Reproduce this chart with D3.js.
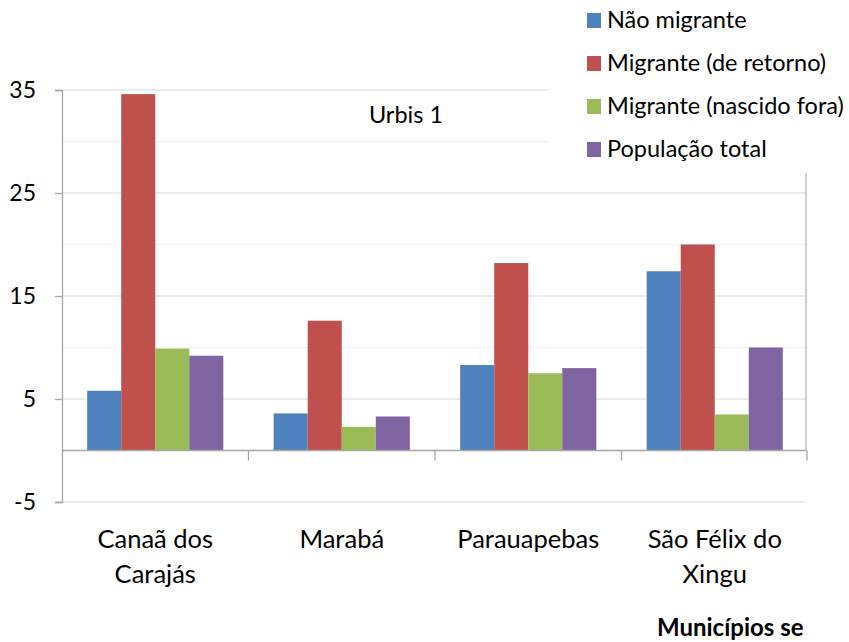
<!DOCTYPE html>
<html><head><meta charset="utf-8">
<script src="https://cdn.jsdelivr.net/npm/d3@7"></script>
<style>body{margin:0;background:#fff}svg{display:block}text{font-family:Lato,"Open Sans",sans-serif;fill:#000}</style>
</head><body><svg id="c" width="849" height="642"></svg>
<script>
const categories = ["Canaã dos Carajás", "Marabá", "Parauapebas", "São Félix do Xingu"];
const categoryLines = [["Canaã dos", "Carajás"], ["Marabá"], ["Parauapebas"], ["São Félix do", "Xingu"]];
const seriesNames = ["Não migrante", "Migrante (de retorno)", "Migrante (nascido fora)", "População total"];
const naoMigrante = [5.8, 3.6, 8.3, 17.4];
const migranteRetorno = [34.6, 12.6, 18.2, 20.0];
const migranteFora = [9.9, 2.3, 7.5, 3.5];
const populacaoTotal = [9.2, 3.3, 8.0, 10.0];
const yTicks = [-5, 5, 15, 25, 35];
const yMinor = [10, 20, 30];
const colors = ["#4F81BD", "#C0504D", "#9BBB59", "#8064A2"];
const series = [naoMigrante, migranteRetorno, migranteFora, populacaoTotal];

const svg = d3.select("#c");
const y = d3.scaleLinear().domain([-5, 35]).range([502, 90]);
const x0 = d3.scaleBand().domain(categories).range([62, 808]);
const x1 = d3.scaleBand().domain(d3.range(4)).range([0, x0.bandwidth()]).paddingOuter(0.74);

// minor grid
svg.append("g").selectAll("line").data(yMinor).join("line")
  .attr("x1", 62).attr("x2", 806).attr("y1", d => y(d)).attr("y2", d => y(d))
  .attr("stroke", "#efefef").attr("stroke-width", 1.2);
// major grid
svg.append("g").selectAll("line").data(yTicks).join("line")
  .attr("x1", 62).attr("x2", 806).attr("y1", d => y(d)).attr("y2", d => y(d))
  .attr("stroke", "#d9d9d9").attr("stroke-width", 1.2);

// bars
const g = svg.append("g");
categories.forEach((c, i) => {
  series.forEach((s, j) => {
    g.append("rect")
      .attr("x", x0(c) + x1(j)).attr("width", x1.bandwidth())
      .attr("y", y(Math.max(0, s[i]))).attr("height", Math.abs(y(s[i]) - y(0)))
      .attr("fill", colors[j]);
  });
});

// y axis
const yAxis = d3.axisLeft(y).tickValues(yTicks).tickSize(7).tickPadding(19).tickFormat(d => String(d));
const ya = svg.append("g").attr("transform", "translate(62,0)").call(yAxis);
ya.select(".domain").attr("stroke", "#a6a6a6").attr("stroke-width", 1.3);
ya.selectAll(".tick line").attr("stroke", "#a6a6a6").attr("stroke-width", 1.3);
ya.selectAll(".tick text").attr("font-size", 23).attr("font-family", "Lato, sans-serif").attr("fill", "#000");

// zero axis with category ticks
svg.append("line").attr("x1", 62).attr("x2", 807).attr("y1", y(0)).attr("y2", y(0))
  .attr("stroke", "#a6a6a6").attr("stroke-width", 1.3);
const bounds = categories.map(c => x0(c)).concat([x0.range()[1] - 1]);
svg.append("g").selectAll("line").data(bounds.slice(1)).join("line")
  .attr("x1", d => d).attr("x2", d => d).attr("y1", y(0)).attr("y2", y(0) + 10)
  .attr("stroke", "#a6a6a6").attr("stroke-width", 1.3);
// right border
svg.append("line").attr("x1", 806).attr("x2", 806).attr("y1", 173).attr("y2", y(0))
  .attr("stroke", "#bfbfbf").attr("stroke-width", 1.5);

// category labels
categories.forEach((c, i) => {
  const cx = x0(c) + x0.bandwidth() / 2;
  const t = svg.append("text").attr("text-anchor", "middle").attr("font-size", 25.5)
    .attr("x", cx).attr("y", 548);
  categoryLines[i].forEach((l, k) => t.append("tspan").attr("x", cx).attr("dy", k ? 35 : 0).text(l));
});

// Urbis 1
svg.append("text").attr("x", 406).attr("y", 123).attr("text-anchor", "middle").attr("font-size", 23.5).text("Urbis 1");

// legend white box
svg.append("rect").attr("x", 549).attr("y", 0).attr("width", 300).attr("height", 172).attr("fill", "#fff");
const lg = svg.append("g");
seriesNames.forEach((n, j) => {
  const base = 28 + j * 43;
  lg.append("rect").attr("x", 587).attr("y", base - 15).attr("width", 14).attr("height", 15).attr("fill", colors[j]);
  lg.append("text").attr("x", 607).attr("y", base).attr("font-size", 23.5).text(n);
});

// axis title (visible part only)
svg.append("text").attr("x", 657).attr("y", 636)
  .attr("font-size", 24).attr("font-weight", "bold").text("Municípios se");
</script></body></html>
